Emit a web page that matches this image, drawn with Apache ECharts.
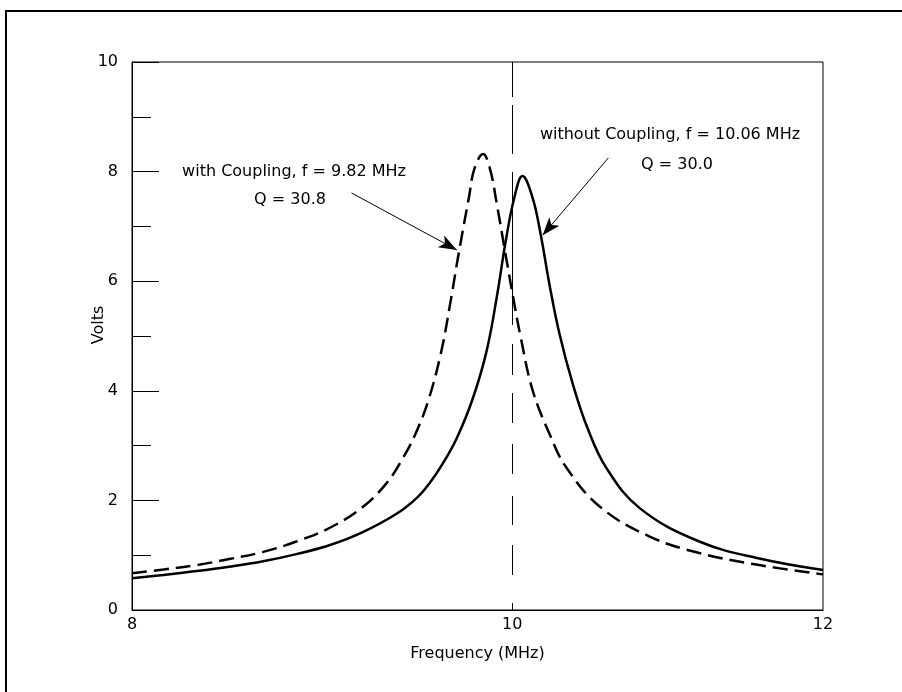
<!DOCTYPE html>
<html>
<head>
<meta charset="utf-8">
<script src="https://cdn.jsdelivr.net/npm/echarts@6/dist/echarts.min.js"></script>
<style>
  html, body { margin: 0; padding: 0; background: #fff; }
  #chart { width: 902px; height: 692px; }
</style>
</head>
<body>
<div id="chart"></div>
<script>
// values
var freqSolid = [8.00, 8.15, 8.31, 8.47, 8.64, 8.81, 8.99, 9.16, 9.35, 9.46, 9.53, 9.60, 9.68, 9.77, 9.85, 9.91, 9.96, 10.01, 10.06, 10.12, 10.17, 10.22, 10.28, 10.36, 10.45, 10.57, 10.78, 11.16, 11.56, 12.00];
var voltsSolid = [0.58, 0.64, 0.71, 0.79, 0.89, 1.02, 1.19, 1.42, 1.77, 2.06, 2.33, 2.67, 3.14, 3.85, 4.72, 5.72, 6.70, 7.50, 7.92, 7.52, 6.82, 5.95, 5.05, 4.14, 3.33, 2.58, 1.85, 1.25, 0.94, 0.73];

var freqDashed = [8.00, 8.15, 8.31, 8.47, 8.64, 8.81, 8.99, 9.16, 9.29, 9.38, 9.45, 9.52, 9.59, 9.64, 9.69, 9.75, 9.78, 9.83, 9.87, 9.91, 9.96, 10.01, 10.05, 10.12, 10.22, 10.32, 10.53, 10.84, 11.16, 11.56, 12.00];
var voltsDashed = [0.67, 0.74, 0.82, 0.93, 1.06, 1.25, 1.51, 1.88, 2.32, 2.78, 3.23, 3.83, 4.69, 5.55, 6.50, 7.55, 8.05, 8.32, 8.05, 7.40, 6.50, 5.62, 4.97, 4.01, 3.22, 2.61, 1.88, 1.34, 1.04, 0.82, 0.65];

var xTicks = [8, 10, 12];
var markerFreq = 10;

// arrows: [start freq, start volts, tip freq, tip volts]
var arrowWith = [9.10, 7.61, 9.68, 6.57];
var arrowWithout = [10.58, 8.25, 10.18, 6.84];

var FONT = '"DejaVu Sans", Arial, sans-serif';
var FS = 16;

// dash pattern of the 10 MHz marker, bottom to top
var markerDash = [7, 28, 30, 20, 29, 22, 30, 21, 30, 18, 31, 19, 153, 18, 49, 8, 40];

function pairs(fs, vs) {
  return fs.map(function (f, i) { return [Math.log10(f), vs[i]]; });
}

function arrow(a) {
  return [
    { coord: [Math.log10(a[0]), a[1]], symbol: "none" },
    { coord: [Math.log10(a[2]), a[3]], symbol: "arrow" },
  ];
}

function note(text, x, y) {
  return {
    type: "text",
    x: x,
    y: y,
    style: { text: text, fill: "#000", font: FS + "px " + FONT, align: "center", verticalAlign: "middle" },
  };
}

var myChart = echarts.init(document.getElementById("chart"));

var option = {
  animation: false,
  backgroundColor: "#fff",
  grid: {
    left: 132,
    right: 79,
    top: 62,
    bottom: 82,
    show: true,
    borderColor: "#000",
    borderWidth: 1,
  },
  xAxis: {
    type: "value",
    min: Math.log10(8),
    max: Math.log10(12),
    name: "Frequency (MHz)",
    nameLocation: "middle",
    nameGap: 36,
    nameMoveOverlap: false,
    nameTextStyle: { color: "#000", fontSize: FS, fontFamily: FONT },
    axisLine: { show: true, lineStyle: { color: "#000", width: 1 } },
    axisTick: { show: false },
    splitLine: { show: false },
    axisLabel: {
      customValues: xTicks.map(function (v) { return Math.log10(v); }),
      formatter: function (v) { return String(Math.round(Math.pow(10, v))); },
      color: "#000",
      fontSize: FS,
      fontFamily: FONT,
      margin: 7,
    },
  },
  yAxis: {
    type: "value",
    min: 0,
    max: 10,
    interval: 2,
    name: "Volts",
    nameLocation: "middle",
    nameRotate: 90,
    nameGap: 25,
    nameMoveOverlap: false,
    nameTextStyle: { color: "#000", fontSize: FS, fontFamily: FONT, padding: [0, 0, 0, 22] },
    axisLine: { show: true, lineStyle: { color: "#000", width: 1 } },
    axisTick: { show: true, inside: true, length: 27, lineStyle: { color: "#000", width: 1 } },
    minorTick: { show: true, splitNumber: 2, length: 19, lineStyle: { color: "#000", width: 1 } },
    splitLine: { show: false },
    axisLabel: { color: "#000", fontSize: FS, fontFamily: FONT, margin: 14 },
  },
  graphic: [
    {
      type: "rect",
      shape: { x: 6, y: 11, width: 1000, height: 1000 },
      style: { fill: "none", stroke: "#000", lineWidth: 2 },
      silent: true,
    },
    note("with Coupling, f = 9.82 MHz", 294, 172),
    note("Q = 30.8", 290, 200),
    note("without Coupling, f = 10.06 MHz", 670, 135),
    note("Q = 30.0", 677, 165),
  ],
  series: [
    {
      name: "without Coupling",
      type: "line",
      data: pairs(freqSolid, voltsSolid),
      showSymbol: false,
      smooth: 0.4,
      lineStyle: { color: "#000", width: 2.5 },
      markLine: {
        silent: true,
        symbol: ["none", "none"],
        label: { show: false },
        lineStyle: { color: "#000", width: 1, type: markerDash },
        data: [{ xAxis: Math.log10(markerFreq) }],
      },
    },
    {
      name: "with Coupling",
      type: "line",
      data: pairs(freqDashed, voltsDashed),
      showSymbol: false,
      smooth: 0.4,
      lineStyle: { color: "#000", width: 2.5, type: [15, 7] },
      markLine: {
        silent: true,
        symbol: ["none", "arrow"],
        symbolSize: [10, 18],
        label: { show: false },
        lineStyle: { color: "#000", width: 1, type: "solid" },
        data: [arrow(arrowWith), arrow(arrowWithout)],
      },
    },
  ],
};

myChart.setOption(option);
</script>
</body>
</html>
